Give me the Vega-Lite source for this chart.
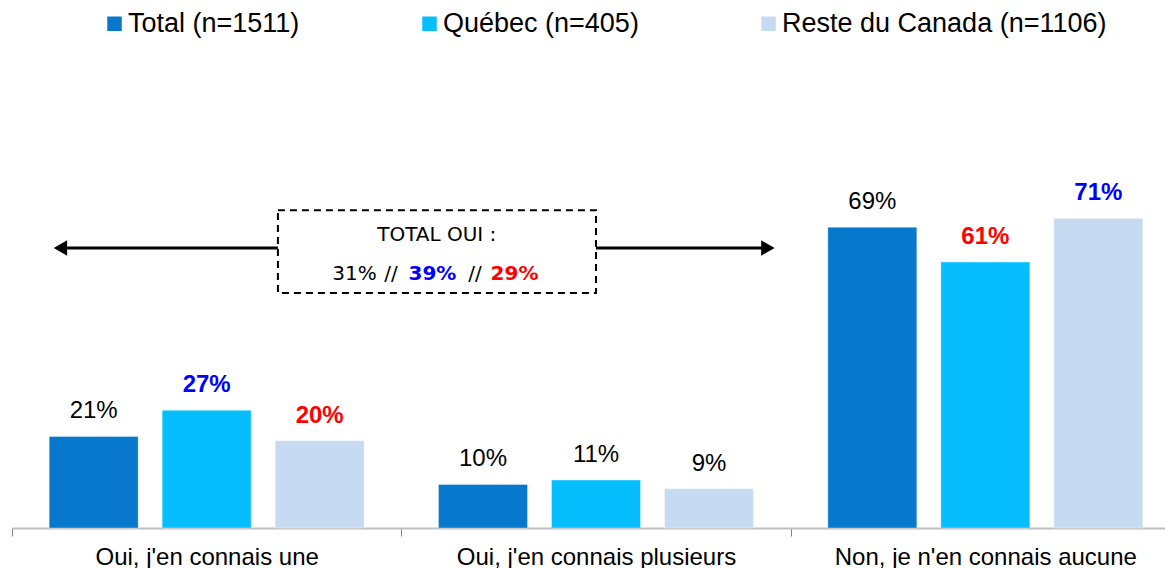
{
  "$schema": "https://vega.github.io/schema/vega-lite/v6.json",
  "width": 1153,
  "height": 436,
  "autosize": "none",
  "padding": {"left": 12, "top": 92, "right": 0, "bottom": 40},
  "background": "white",
  "config": {
    "view": {"stroke": null},
    "text": {"font": "Liberation Sans"},
    "legend": {
      "orient": "none",
      "direction": "horizontal",
      "legendX": 89,
      "legendY": -82,
      "padding": 0,
      "symbolType": "square",
      "symbolSize": 210,
      "symbolStrokeWidth": 0,
      "labelFont": "Liberation Sans",
      "labelFontSize": 27,
      "labelColor": "black",
      "labelOffset": 0,
      "columnPadding": 116,
      "labelLimit": 0,
      "title": null
    }
  },
  "layer": [
    {
      "data": {
        "values": [
          {"categorie": "Oui, j'en connais une", "groupe": "Total (n=1511)", "pct": 0.21, "sig": "aucune"},
          {"categorie": "Oui, j'en connais une", "groupe": "Québec (n=405)", "pct": 0.27, "sig": "plus"},
          {"categorie": "Oui, j'en connais une", "groupe": "Reste du Canada (n=1106)", "pct": 0.20, "sig": "moins"},
          {"categorie": "Oui, j'en connais plusieurs", "groupe": "Total (n=1511)", "pct": 0.10, "sig": "aucune"},
          {"categorie": "Oui, j'en connais plusieurs", "groupe": "Québec (n=405)", "pct": 0.11, "sig": "aucune"},
          {"categorie": "Oui, j'en connais plusieurs", "groupe": "Reste du Canada (n=1106)", "pct": 0.09, "sig": "aucune"},
          {"categorie": "Non, je n'en connais aucune", "groupe": "Total (n=1511)", "pct": 0.69, "sig": "aucune"},
          {"categorie": "Non, je n'en connais aucune", "groupe": "Québec (n=405)", "pct": 0.61, "sig": "moins"},
          {"categorie": "Non, je n'en connais aucune", "groupe": "Reste du Canada (n=1106)", "pct": 0.71, "sig": "plus"}
        ]
      },
      "encoding": {
        "x": {
          "field": "categorie",
          "type": "nominal",
          "sort": null,
          "scale": {"range": [0, 1168], "paddingInner": 0, "paddingOuter": 0},
          "axis": {
            "title": null,
            "labelAngle": 0,
            "labelFont": "Liberation Sans",
            "labelFontSize": 24,
            "labelColor": "black",
            "labelPadding": 9,
            "labelLimit": 0,
            "domainColor": "#BFBFBF",
            "domainWidth": 2,
            "tickColor": "#808080",
            "tickSize": 8,
            "tickWidth": 1,
            "tickBand": "extent",
            "grid": false
          }
        },
        "xOffset": {
          "field": "groupe",
          "type": "nominal",
          "sort": ["Total (n=1511)", "Québec (n=405)", "Reste du Canada (n=1106)"],
          "scale": {"paddingInner": 0.2124, "paddingOuter": 0.3289}
        },
        "y": {
          "field": "pct",
          "type": "quantitative",
          "scale": {"domain": [0, 1], "nice": false},
          "axis": null
        }
      },
      "layer": [
        {
          "mark": {"type": "bar", "stroke": "white", "strokeOpacity": 0.35, "strokeWidth": 1},
          "encoding": {
            "color": {
              "field": "groupe",
              "type": "nominal",
              "sort": ["Total (n=1511)", "Québec (n=405)", "Reste du Canada (n=1106)"],
              "scale": {
                "domain": ["Total (n=1511)", "Québec (n=405)", "Reste du Canada (n=1106)"],
                "range": ["#0878CD", "#06BEFE", "#C6DBF2"]
              }
            }
          }
        },
        {
          "transform": [{"filter": "datum.sig === 'aucune'"}],
          "mark": {"type": "text", "font": "Liberation Sans", "fontSize": 24, "color": "black", "baseline": "alphabetic", "dy": -18},
          "encoding": {
            "text": {"field": "pct", "type": "quantitative", "format": ".0%"}
          }
        },
        {
          "transform": [{"filter": "datum.sig !== 'aucune'"}],
          "mark": {"type": "text", "font": "Liberation Sans", "fontSize": 24, "fontWeight": "bold", "baseline": "alphabetic", "dy": -18},
          "encoding": {
            "text": {"field": "pct", "type": "quantitative", "format": ".0%"},
            "fill": {
              "field": "sig",
              "type": "nominal",
              "scale": {"domain": ["plus", "moins"], "range": ["#0000FF", "#FF0000"]},
              "legend": null
            }
          }
        }
      ]
    },
    {
      "data": {"values": [{}]},
      "layer": [
        {
          "mark": {"type": "rule", "color": "black", "strokeWidth": 3},
          "encoding": {
            "x": {"datum": 0.115, "type": "quantitative", "scale": {"domain": [0, 3], "range": [0, 1168], "nice": false, "zero": false}, "axis": null},
            "x2": {"datum": 0.683},
            "y": {"datum": 0.642, "type": "quantitative"}
          }
        },
        {
          "mark": {"type": "rule", "color": "black", "strokeWidth": 3},
          "encoding": {
            "x": {"datum": 1.5, "type": "quantitative"},
            "x2": {"datum": 1.95},
            "y": {"datum": 0.642, "type": "quantitative"}
          }
        },
        {
          "mark": {"type": "point", "shape": "triangle-left", "filled": true, "color": "black", "size": 240, "opacity": 1},
          "encoding": {
            "x": {"datum": 0.1244, "type": "quantitative"},
            "y": {"datum": 0.642, "type": "quantitative"}
          }
        },
        {
          "mark": {"type": "point", "shape": "triangle-right", "filled": true, "color": "black", "size": 240, "opacity": 1},
          "encoding": {
            "x": {"datum": 1.9415, "type": "quantitative"},
            "y": {"datum": 0.642, "type": "quantitative"}
          }
        },
        {
          "mark": {"type": "rect", "fill": "white", "stroke": "black", "strokeWidth": 2, "strokeDash": [7, 5]},
          "encoding": {
            "x": {"datum": 0.683, "type": "quantitative"},
            "x2": {"datum": 1.5},
            "y": {"datum": 0.729, "type": "quantitative"},
            "y2": {"datum": 0.539}
          }
        },
        {
          "mark": {"type": "text", "text": "TOTAL OUI :", "font": "DejaVu Sans", "fontSize": 20, "color": "black", "align": "center", "baseline": "alphabetic"},
          "encoding": {
            "x": {"datum": 1.091, "type": "quantitative"},
            "y": {"datum": 0.658, "type": "quantitative"}
          }
        },
        {
          "mark": {"type": "text", "text": "31%", "font": "DejaVu Sans", "fontSize": 20, "color": "black", "align": "center", "baseline": "alphabetic"},
          "encoding": {
            "x": {"datum": 0.8797, "type": "quantitative"},
            "y": {"datum": 0.569, "type": "quantitative"}
          }
        },
        {
          "mark": {"type": "text", "text": "//", "font": "DejaVu Sans", "fontSize": 20, "color": "black", "align": "center", "baseline": "alphabetic"},
          "encoding": {
            "x": {"datum": 0.9735, "type": "quantitative"},
            "y": {"datum": 0.569, "type": "quantitative"}
          }
        },
        {
          "mark": {"type": "text", "text": "39%", "font": "DejaVu Sans", "fontSize": 20, "fontWeight": "bold", "color": "#0000FF", "align": "center", "baseline": "alphabetic"},
          "encoding": {
            "x": {"datum": 1.08, "type": "quantitative"},
            "y": {"datum": 0.569, "type": "quantitative"}
          }
        },
        {
          "mark": {"type": "text", "text": "//", "font": "DejaVu Sans", "fontSize": 20, "color": "black", "align": "center", "baseline": "alphabetic"},
          "encoding": {
            "x": {"datum": 1.189, "type": "quantitative"},
            "y": {"datum": 0.569, "type": "quantitative"}
          }
        },
        {
          "mark": {"type": "text", "text": "29%", "font": "DejaVu Sans", "fontSize": 20, "fontWeight": "bold", "color": "#FF0000", "align": "center", "baseline": "alphabetic"},
          "encoding": {
            "x": {"datum": 1.2907, "type": "quantitative"},
            "y": {"datum": 0.569, "type": "quantitative"}
          }
        }
      ]
    }
  ],
  "resolve": {"scale": {"x": "independent"}}
}
